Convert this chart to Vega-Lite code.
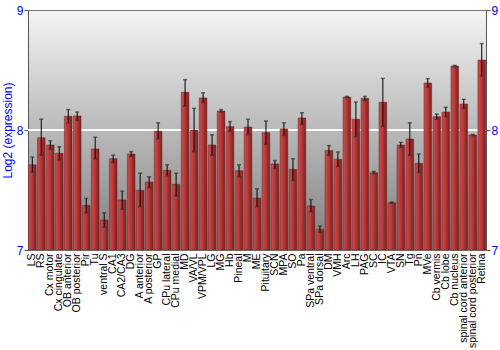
{
  "$schema": "https://vega.github.io/schema/vega-lite/v6.json",
  "width": 458,
  "height": 240,
  "autosize": "none",
  "padding": {"left": 28, "top": 10, "right": 14, "bottom": 100},
  "config": {
    "font": "Liberation Sans",
    "view": {
      "stroke": "#777777",
      "strokeWidth": 1,
      "fill": {"gradient": "linear", "x1": 0, "y1": 0, "x2": 0, "y2": 1,
        "stops": [{"offset": 0, "color": "#f4f4f4"}, {"offset": 1, "color": "#7e7e7e"}]}
    }
  },
  "data": {"values": [
    {"r": "LS", "v": 7.71, "lo": 7.65, "hi": 7.775},
    {"r": "RS", "v": 7.936, "lo": 7.79, "hi": 8.09},
    {"r": "Cx motor", "v": 7.875, "lo": 7.84, "hi": 7.91},
    {"r": "Cx cingulate", "v": 7.806, "lo": 7.75, "hi": 7.86},
    {"r": "OB anterior", "v": 8.114, "lo": 8.06, "hi": 8.17},
    {"r": "OB posterior", "v": 8.117, "lo": 8.08, "hi": 8.15},
    {"r": "Pir", "v": 7.372, "lo": 7.31, "hi": 7.43},
    {"r": "Tu", "v": 7.842, "lo": 7.76, "hi": 7.94},
    {"r": "ventral S", "v": 7.25, "lo": 7.19, "hi": 7.31},
    {"r": "CA1", "v": 7.761, "lo": 7.73, "hi": 7.79},
    {"r": "CA2/CA3", "v": 7.417, "lo": 7.34, "hi": 7.49},
    {"r": "DG", "v": 7.8, "lo": 7.78, "hi": 7.82},
    {"r": "A anterior", "v": 7.497, "lo": 7.36, "hi": 7.64},
    {"r": "A posterior", "v": 7.567, "lo": 7.52, "hi": 7.61},
    {"r": "GP", "v": 7.99, "lo": 7.925, "hi": 8.06},
    {"r": "CPu lateral", "v": 7.664, "lo": 7.62, "hi": 7.71},
    {"r": "CPu medial", "v": 7.547, "lo": 7.45, "hi": 7.64},
    {"r": "MD", "v": 8.314, "lo": 8.2, "hi": 8.42},
    {"r": "VA/VL", "v": 8.0, "lo": 7.82, "hi": 8.18},
    {"r": "VPM/VPL", "v": 8.267, "lo": 8.23, "hi": 8.31},
    {"r": "LG", "v": 7.875, "lo": 7.79, "hi": 7.96},
    {"r": "MG", "v": 8.158, "lo": 8.15, "hi": 8.17},
    {"r": "Hb", "v": 8.028, "lo": 7.99, "hi": 8.07},
    {"r": "Pineal", "v": 7.661, "lo": 7.61, "hi": 7.71},
    {"r": "M", "v": 8.025, "lo": 7.96, "hi": 8.09},
    {"r": "ME", "v": 7.433, "lo": 7.36, "hi": 7.51},
    {"r": "Pituitary", "v": 7.978, "lo": 7.88, "hi": 8.075},
    {"r": "SCN", "v": 7.717, "lo": 7.68, "hi": 7.745},
    {"r": "MPA", "v": 8.008, "lo": 7.955, "hi": 8.06},
    {"r": "SO", "v": 7.672, "lo": 7.58, "hi": 7.76},
    {"r": "Pa", "v": 8.1, "lo": 8.047, "hi": 8.144},
    {"r": "SPa ventral", "v": 7.367, "lo": 7.32, "hi": 7.42},
    {"r": "SPa dorsal", "v": 7.172, "lo": 7.147, "hi": 7.2},
    {"r": "DM", "v": 7.83, "lo": 7.79, "hi": 7.87},
    {"r": "VMH", "v": 7.756, "lo": 7.694, "hi": 7.817},
    {"r": "Arc", "v": 8.275, "lo": 8.27, "hi": 8.28},
    {"r": "LH", "v": 8.089, "lo": 7.944, "hi": 8.233},
    {"r": "PAG", "v": 8.264, "lo": 8.247, "hi": 8.28},
    {"r": "SC", "v": 7.644, "lo": 7.636, "hi": 7.655},
    {"r": "IC", "v": 8.231, "lo": 8.03, "hi": 8.43},
    {"r": "VTA", "v": 7.394, "lo": 7.39, "hi": 7.4},
    {"r": "SN", "v": 7.875, "lo": 7.856, "hi": 7.897},
    {"r": "Tg", "v": 7.925, "lo": 7.79, "hi": 8.06},
    {"r": "Pn", "v": 7.722, "lo": 7.647, "hi": 7.8},
    {"r": "MVe", "v": 8.392, "lo": 8.356, "hi": 8.428},
    {"r": "Cb vermis", "v": 8.111, "lo": 8.089, "hi": 8.133},
    {"r": "Cb lobe", "v": 8.15, "lo": 8.111, "hi": 8.189},
    {"r": "Cb nucleus", "v": 8.533, "lo": 8.528, "hi": 8.538},
    {"r": "spinal cord anterior", "v": 8.217, "lo": 8.181, "hi": 8.256},
    {"r": "spinal cord posterior", "v": 7.958, "lo": 7.954, "hi": 7.962},
    {"r": "Retina", "v": 8.583, "lo": 8.45, "hi": 8.72}
  ]},
  "encoding": {
    "x": {"field": "r", "type": "nominal", "sort": null,
      "scale": {"paddingInner": 0.15, "paddingOuter": 0.05},
      "axis": {"title": null, "labelAngle": -90, "labelFontSize": 10.5, "labelColor": "#000000",
        "ticks": false, "domain": false, "labelPadding": 3, "labelFont": "Liberation Sans",
        "labelOverlap": false}}
  },
  "layer": [
    {
      "layer": [
        {
          "mark": {"type": "rule", "color": "#ffffff", "strokeWidth": 1.5},
          "encoding": {"y": {"datum": 8}, "x": null}
        },
        {
          "mark": {"type": "bar", "stroke": "#6a2222", "strokeWidth": 0.5,
            "color": {"gradient": "linear", "x1": 0, "y1": 0, "x2": 1, "y2": 0,
              "stops": [{"offset": 0, "color": "#cc4c4c"}, {"offset": 0.45, "color": "#b73a3a"}, {"offset": 1, "color": "#7c1e1e"}]}},
          "encoding": {
            "y": {"field": "v", "type": "quantitative",
              "scale": {"domain": [7, 9], "zero": false, "nice": false},
              "axis": {"orient": "left", "title": "Log2 (expression)", "titleColor": "#0000ff", "titleFontSize": 12,
                "titleFontWeight": "normal", "titleFont": "Liberation Sans", "titlePadding": 2,
                "tickCount": 2, "labelOverlap": false, "labelColor": "#0000ff", "labelFontSize": 12,
                "labelFont": "Liberation Sans", "labelPadding": 1,
                "domainColor": "#555555", "tickColor": "#555555", "tickSize": 4, "grid": false}},
            "y2": {"datum": 7}
          }
        },
        {
          "mark": {"type": "rule", "color": "#000000", "strokeWidth": 1},
          "encoding": {
            "y": {"field": "lo", "type": "quantitative"},
            "y2": {"field": "hi"}
          }
        },
        {
          "mark": {"type": "tick", "color": "#333333", "size": 4, "thickness": 1.5, "orient": "horizontal"},
          "encoding": {"y": {"field": "lo", "type": "quantitative"}}
        },
        {
          "mark": {"type": "tick", "color": "#333333", "size": 4, "thickness": 1.5, "orient": "horizontal"},
          "encoding": {"y": {"field": "hi", "type": "quantitative"}}
        }
      ]
    },
    {
      "mark": {"type": "rule", "opacity": 0},
      "encoding": {
        "y": {"field": "v", "type": "quantitative",
          "scale": {"domain": [7, 9], "zero": false, "nice": false},
          "axis": {"orient": "right", "title": null, "tickCount": 2, "labelOverlap": false,
            "labelColor": "#0000ff", "labelPadding": 1,
            "labelFontSize": 12, "labelFont": "Liberation Sans", "domainColor": "#555555",
            "tickColor": "#555555", "tickSize": 4, "grid": false}}
      }
    }
  ],
  "resolve": {"scale": {"y": "independent"}}
}
